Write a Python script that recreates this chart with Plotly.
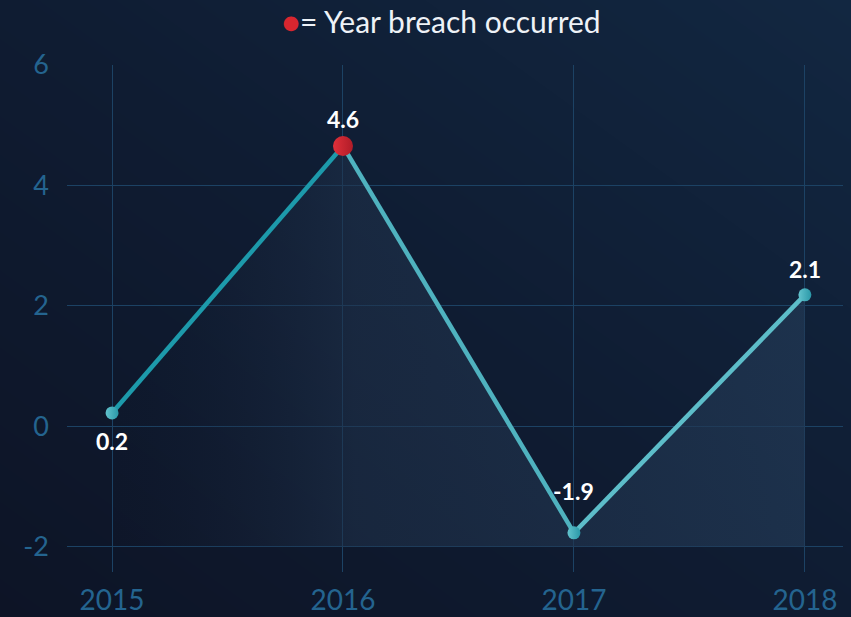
import plotly.graph_objects as go

years = [2015, 2016, 2017, 2018]
values = [0.22, 4.65, -1.77, 2.18]
labels = ["0.2", "4.6", "-1.9", "2.1"]
breach = [False, True, False, False]
y_ticks = [-2, 0, 2, 4, 6]
y_tick_text = ["-2", "0", "2", "4", "6"]
x_ticks = [2015, 2016, 2017, 2018]
x_tick_text = ["2015", "2016", "2017", "2018"]
segment_colors = ["#1d9aab", "#4fb2bf", "#5dbdc9"]
label_shift = [-28, 27, 42, 26]

FONT = "Lato"
TICK_COLOR = "#24648f"
GRID_COLOR = "#1c4264"
W, H = 851, 617
L, R, T, B = 67, 843, 64.7, 572

fig = go.Figure()

# background gradient (bottom-left dark -> top-right lighter)
fig.add_trace(go.Heatmap(
    x=[0, 1], y=[0, 1], z=[[0, 1], [1, 2]], zsmooth="best",
    colorscale=[[0, "#0d1426"], [0.5, "#0f1c32"], [1, "#122741"]],
    showscale=False, hoverinfo="skip", xaxis="x", yaxis="y"))

# baseline for area fill
fig.add_trace(go.Scatter(x=years, y=[y_ticks[0]] * len(years), mode="lines",
                         line=dict(width=0), hoverinfo="skip", showlegend=False,
                         xaxis="x2", yaxis="y2"))
fig.add_trace(go.Scatter(
    x=years, y=values, mode="lines", line=dict(width=0), fill="tonexty",
    fillgradient=dict(type="horizontal",
                      colorscale=[[0, "rgba(20,30,50,0.0)"], [0.35, "rgba(32,50,75,0.55)"],
                                  [1, "rgba(34,57,85,0.7)"]]),
    hoverinfo="skip", showlegend=False, xaxis="x2", yaxis="y2"))

# line segments
for i in range(len(years) - 1):
    fig.add_trace(go.Scatter(x=years[i:i + 2], y=values[i:i + 2], mode="lines",
                             line=dict(color=segment_colors[i], width=4.5),
                             showlegend=False, hoverinfo="skip", xaxis="x2", yaxis="y2"))

# markers
normal = [i for i, b in enumerate(breach) if not b]
red = [i for i, b in enumerate(breach) if b]
fig.add_trace(go.Scatter(
    x=[years[i] for i in normal], y=[values[i] for i in normal], mode="markers",
    marker=dict(size=13, color="#62c3cd", gradient=dict(type="horizontal", color="#2a98a8"),
                line=dict(width=0)),
    showlegend=False, xaxis="x2", yaxis="y2"))
fig.add_trace(go.Scatter(
    x=[years[i] for i in red], y=[values[i] for i in red], mode="markers",
    marker=dict(size=20, color="#e0303a", gradient=dict(type="horizontal", color="#b01c28"),
                line=dict(width=0)),
    showlegend=False, xaxis="x2", yaxis="y2"))

annotations = []
for x, y, t, s in zip(years, values, labels, label_shift):
    annotations.append(dict(x=x, y=y, xref="x2", yref="y2", text="<b>" + t + "</b>",
                            showarrow=False, yshift=s,
                            font=dict(family=FONT, size=23, color="#ffffff")))
annotations.append(dict(
    xref="paper", yref="paper", x=441 / W, y=1 - 21 / H, xanchor="center", yanchor="middle",
    text="<span style='color:#d8262f'>●</span>= Year breach occurred",
    showarrow=False, font=dict(family=FONT, size=30, color="#eef2f7")))

fig.update_layout(
    width=W, height=H,
    margin=dict(l=0, r=0, t=0, b=0, pad=0),
    paper_bgcolor="#0e1a2e", plot_bgcolor="rgba(0,0,0,0)",
    annotations=annotations,
    xaxis=dict(domain=[0, 1], range=[0, 1], visible=False, fixedrange=True),
    yaxis=dict(domain=[0, 1], range=[0, 1], visible=False, fixedrange=True),
    xaxis2=dict(domain=[L / W, R / W], anchor="y2",
                range=[2014.805, 2018.165], tickvals=x_ticks, ticktext=x_tick_text,
                showgrid=True, gridcolor=GRID_COLOR, gridwidth=1, zeroline=False,
                tickfont=dict(family=FONT, size=28, color=TICK_COLOR), ticklabelstandoff=9,
                showline=False, automargin=False),
    yaxis2=dict(domain=[1 - B / H, 1 - T / H], anchor="x2",
                range=[-2.42, 6.0], tickvals=y_ticks, ticktext=y_tick_text,
                showgrid=True, gridcolor=GRID_COLOR, gridwidth=1, zeroline=False,
                tickfont=dict(family=FONT, size=27, color=TICK_COLOR), ticklabelstandoff=17,
                showline=False, automargin=False),
    hovermode=False,
)

fig.write_html("out.html", config={"displayModeBar": False},
               post_script="document.body.style.margin='0';document.body.style.background='#0e1a2e';")
